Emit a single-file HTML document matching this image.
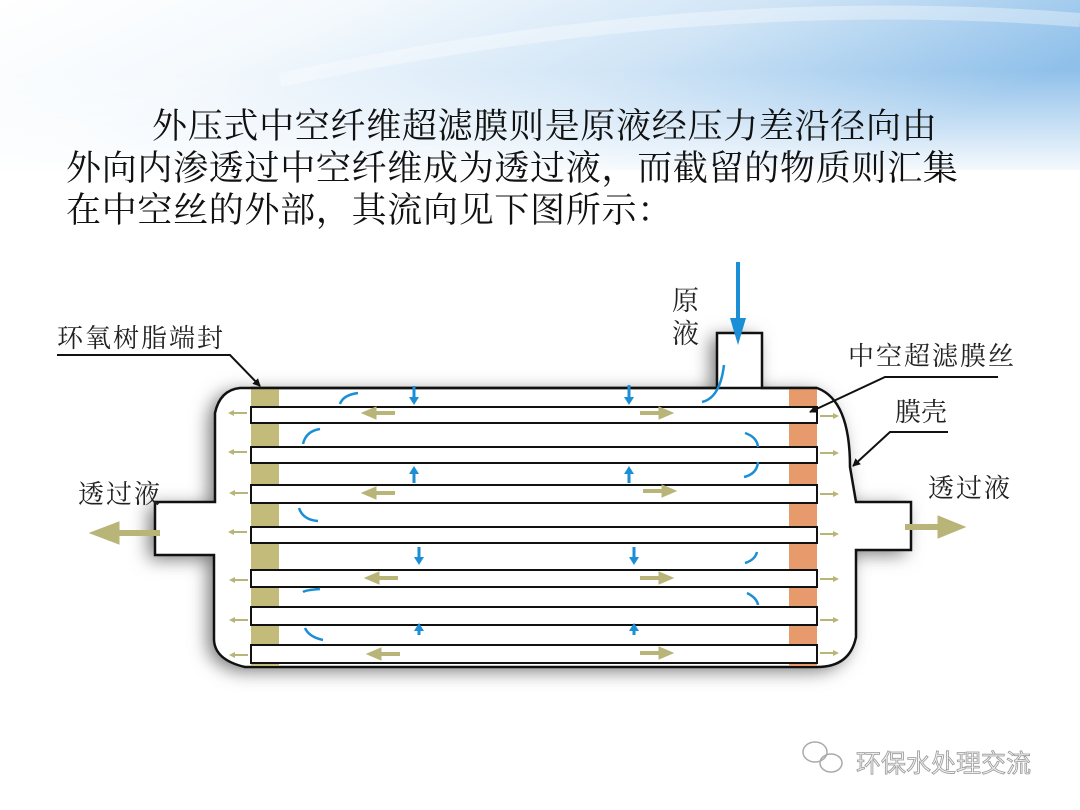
<!DOCTYPE html>
<html><head><meta charset="utf-8"><style>
html,body{margin:0;padding:0;}
body{width:1080px;height:810px;position:relative;overflow:hidden;background:#fff;font-family:"Liberation Serif","Noto Serif CJK SC",serif;}
svg{position:absolute;left:0;top:0;}
</style></head><body>
<svg width="1080" height="810" viewBox="0 0 1080 810" xmlns="http://www.w3.org/2000/svg">
<defs>
<linearGradient id="bg" x1="0" y1="0" x2="1" y2="0.35">
<stop offset="0" stop-color="#ffffff"/>
<stop offset="0.3" stop-color="#f4f9fd"/>
<stop offset="0.65" stop-color="#cfe4f6"/>
<stop offset="1" stop-color="#8fc0ea"/>
</linearGradient>
<linearGradient id="fade" x1="0" y1="0" x2="0" y2="1">
<stop offset="0" stop-color="#fff" stop-opacity="0"/>
<stop offset="1" stop-color="#fff" stop-opacity="1"/>
</linearGradient>
<filter id="sh" x="-20%" y="-20%" width="140%" height="140%"><feGaussianBlur stdDeviation="9"/></filter>
<marker id="bk" markerWidth="8" markerHeight="8" refX="7" refY="4" orient="auto" markerUnits="userSpaceOnUse"><path d="M0,0 L8,4 L0,8Z" fill="#111"/></marker>
</defs>
<rect x="0" y="0" width="1080" height="170" fill="url(#bg)"/>
<path d="M280 80 Q700 -10 1080 20" stroke="#fff" stroke-opacity="0.35" stroke-width="14" fill="none"/>
<rect x="0" y="70" width="1080" height="110" fill="url(#fade)"/>

<path d="M240 388 L717 388 L717 333 L762 333 L762 388 L817 388 Q850 400 850 467 L856 502 L911 502 L911 550 L856 550 L856 637 Q850 667 817 667 L245 667 Q215 660 214 640 L214 555 L155 555 L155 502 L215 502 L215 413 Q220 390 240 388Z" fill="#777" filter="url(#sh)" transform="translate(-6,4)"/>
<path d="M240 388 L717 388 L717 333 L762 333 L762 388 L817 388 Q850 400 850 467 L856 502 L911 502 L911 550 L856 550 L856 637 Q850 667 817 667 L245 667 Q215 660 214 640 L214 555 L155 555 L155 502 L215 502 L215 413 Q220 390 240 388Z" fill="#fff" stroke="#111" stroke-width="2.5"/>
<rect x="251" y="388" width="28" height="279" fill="#c2bb7a"/>
<rect x="789" y="388" width="28" height="279" fill="#e79a6c"/>
<line x1="251" y1="388" x2="817" y2="388" stroke="#111" stroke-width="2.5"/>
<line x1="251" y1="667" x2="817" y2="667" stroke="#111" stroke-width="2"/>
<g fill="#fff" stroke="#111" stroke-width="2">
<rect x="251" y="407" width="566" height="16"/>
<rect x="251" y="447" width="566" height="16"/>
<rect x="251" y="485" width="566" height="18"/>
<rect x="251" y="527" width="566" height="16"/>
<rect x="251" y="570" width="566" height="17"/>
<rect x="251" y="607" width="566" height="18"/>
<rect x="251" y="645" width="566" height="18"/>
</g>
<g fill="#b9b477" stroke="#b9b477">
<g stroke-width="4">
<line x1="395" y1="413" x2="375" y2="413"/><line x1="395" y1="493" x2="375" y2="493"/><line x1="398" y1="578" x2="378" y2="578"/><line x1="400" y1="654" x2="380" y2="654"/>
<line x1="640" y1="413" x2="660" y2="413"/><line x1="643" y1="491" x2="663" y2="491"/><line x1="640" y1="578" x2="660" y2="578"/><line x1="640" y1="653" x2="660" y2="653"/>
<line x1="905" y1="527" x2="940" y2="527" stroke-width="6"/>
<line x1="160" y1="533" x2="118" y2="533" stroke-width="6"/>
</g>
<path d="M362 413 l14 -6 v12z"/><path d="M362 493 l14 -6 v12z"/><path d="M365 578 l14 -6 v12z"/><path d="M367 654 l14 -6 v12z"/>
<path d="M673 413 l-14 -6 v12z"/><path d="M676 491 l-14 -6 v12z"/><path d="M673 578 l-14 -6 v12z"/><path d="M673 653 l-14 -6 v12z"/>
<path d="M965 527 l-27 -11 v22z"/><path d="M90 533 l29 -11 v22z"/>
<g stroke-width="2">
<line x1="247" y1="413" x2="233" y2="413"/><line x1="247" y1="452" x2="233" y2="452"/><line x1="248" y1="493" x2="234" y2="493"/><line x1="247" y1="532" x2="233" y2="532"/><line x1="248" y1="580" x2="234" y2="580"/><line x1="248" y1="620" x2="234" y2="620"/><line x1="248" y1="655" x2="234" y2="655"/>
<line x1="820" y1="416" x2="834" y2="416"/><line x1="820" y1="453" x2="834" y2="453"/><line x1="820" y1="494" x2="834" y2="494"/><line x1="820" y1="534" x2="834" y2="534"/><line x1="820" y1="579" x2="834" y2="579"/><line x1="820" y1="620" x2="834" y2="620"/><line x1="820" y1="653" x2="834" y2="653"/>
</g>
<g stroke="none">
<path d="M228 413 l6 -3 v6z"/><path d="M228 452 l6 -3 v6z"/><path d="M229 493 l6 -3 v6z"/><path d="M228 532 l6 -3 v6z"/><path d="M229 580 l6 -3 v6z"/><path d="M229 620 l6 -3 v6z"/><path d="M229 655 l6 -3 v6z"/>
<path d="M839 416 l-6 -3 v6z"/><path d="M839 453 l-6 -3 v6z"/><path d="M839 494 l-6 -3 v6z"/><path d="M839 534 l-6 -3 v6z"/><path d="M839 579 l-6 -3 v6z"/><path d="M839 620 l-6 -3 v6z"/><path d="M839 653 l-6 -3 v6z"/>
</g>
</g>
<g fill="#1a8fd6" stroke="#1a8fd6">
<line x1="738" y1="262" x2="738" y2="320" stroke-width="4"/><path d="M730 318 h16 l-8 27z" stroke="none"/>
<g stroke-width="3">
<line x1="414" y1="386" x2="414" y2="398"/><line x1="629" y1="385" x2="629" y2="398"/>
<line x1="414" y1="483" x2="414" y2="472"/><line x1="629" y1="483" x2="629" y2="472"/>
<line x1="419" y1="547" x2="419" y2="558"/><line x1="634" y1="547" x2="634" y2="558"/>
<line x1="419" y1="625" x2="419" y2="635"/><line x1="634" y1="625" x2="634" y2="635"/>
</g>
<g stroke="none">
<path d="M409 397 h10 l-5 8z"/><path d="M624 397 h10 l-5 8z"/>
<path d="M409 474 h10 l-5 -8z"/><path d="M624 474 h10 l-5 -8z"/>
<path d="M414 557 h10 l-5 8z"/><path d="M629 557 h10 l-5 8z"/>
<path d="M414 631 h10 l-5 -8z"/><path d="M629 631 h10 l-5 -8z"/>
</g>
<g fill="none" stroke-width="2.5">
<path d="M340 404 Q343 395 358 393"/><path d="M303 444 Q306 431 320 429"/><path d="M299 508 Q303 520 318 521"/><path d="M303 592 Q306 590 320 589"/><path d="M305 628 Q309 637 323 640"/>
<path d="M745 433 Q757 437 758 447"/><path d="M744 477 Q757 474 758 462"/><path d="M745 563 Q755 560 757 552"/><path d="M747 593 Q757 598 758 605"/>
<path d="M702 402 Q720 398 724 365"/>
</g>
</g>
<g stroke="#111" stroke-width="2" fill="none">
<polyline points="57,355 230,355 260,386" marker-end="url(#bk)"/>
<polyline points="998,377 885,377 810,412" marker-end="url(#bk)"/>
<polyline points="948,432 890,432 853,466" marker-end="url(#bk)"/>
</g>
<g font-family="Liberation Serif, Noto Serif CJK SC, serif" fill="#222" font-size="26">
<text x="57" y="347" letter-spacing="2">环氧树脂端封</text>
<text x="672" y="310" font-size="27">原</text>
<text x="672" y="343" font-size="27">液</text>
<text x="848" y="365" letter-spacing="2">中空超滤膜丝</text>
<text x="895" y="421">膜壳</text>
<text x="928" y="497" letter-spacing="2">透过液</text>
<text x="78" y="503" letter-spacing="2">透过液</text>
</g>
<g font-family="Liberation Serif, Noto Serif CJK SC, serif" fill="#111" font-size="35" letter-spacing="0.7">
<text x="152" y="138">外压式中空纤维超滤膜则是原液经压力差沿径向由</text>
<text x="66" y="180">外向内渗透过中空纤维成为透过液，而截留的物质则汇集</text>
<text x="66" y="222">在中空丝的外部，其流向见下图所示：</text>
</g>
<g fill="none" stroke="#aaa" stroke-width="1.5">
<ellipse cx="815" cy="752" rx="12" ry="10"/><ellipse cx="831" cy="763" rx="11" ry="9"/>
</g>
<text x="856" y="772" font-family="Liberation Sans, Noto Sans CJK SC, sans-serif" font-size="25" fill="#f4f4f4" stroke="#999" stroke-width="0.8">环保水处理交流</text>
</svg>
</body></html>
